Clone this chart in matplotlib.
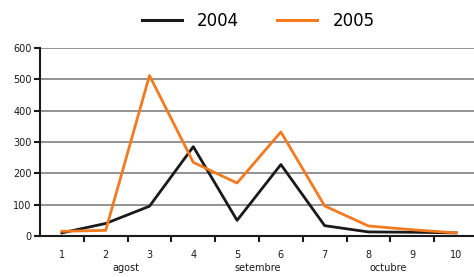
import matplotlib.pyplot as plt
from matplotlib.lines import Line2D

# data
categories = [1, 2, 3, 4, 5, 6, 7, 8, 9, 10]
serie_2004 = [10, 40, 95, 285, 50, 228, 33, 13, 12, 10]
serie_2005 = [15, 18, 512, 235, 169, 332, 96, 32, 20, 10]
months = ["agost", "setembre", "octubre"]
month_x = [2.46, 5.48, 8.45]   # label centres in category units

black = "#1a1a1a"
orange = "#f47a20"

fig = plt.figure(figsize=(4.74, 2.77), dpi=100)
ax = fig.add_axes([0.0844, 0.148, 0.9156, 0.679])

ax.plot(categories, serie_2004, color=black, lw=2.0, zorder=3)
ax.plot(categories, serie_2005, color=orange, lw=2.0, zorder=3)

ax.set_xlim(0.5, 10.41)
ax.set_ylim(0, 600)
ax.set_yticks(range(0, 601, 100))
ax.set_xticks(categories)
ax.set_xticks([c + 0.5 for c in categories[:-1]], minor=True)

for y in range(100, 601, 100):
    ax.axhline(y, color="#8a8a8a", lw=1.3, zorder=1)

for s in ["top", "right"]:
    ax.spines[s].set_visible(False)
ax.spines["left"].set_linewidth(1.5)
ax.spines["bottom"].set_linewidth(1.5)
ax.spines["left"].set_color(black)
ax.spines["bottom"].set_color(black)

ax.tick_params(axis="x", which="major", length=0, pad=10, labelsize=7, labelcolor=black)
ax.tick_params(axis="x", which="minor", length=4, width=1.5, color=black, direction="out")
ax.tick_params(axis="y", length=4, width=1.5, color=black, direction="out", pad=2,
               labelsize=7, labelcolor=black)

for name, xm in zip(months, month_x):
    ax.text(xm, -0.17, name, transform=ax.get_xaxis_transform(), ha="center",
            va="center", fontsize=7, color=black)

handles = [Line2D([], [], color=black, lw=2.2), Line2D([], [], color=orange, lw=2.2)]
fig.legend(handles, ["2004", "2005"], loc="center", bbox_to_anchor=(0.545, 0.925),
           ncol=2, frameon=False, fontsize=12, handlelength=2.4, columnspacing=2.3,
           handletextpad=0.9)

fig.savefig("out.png", dpi=100)
